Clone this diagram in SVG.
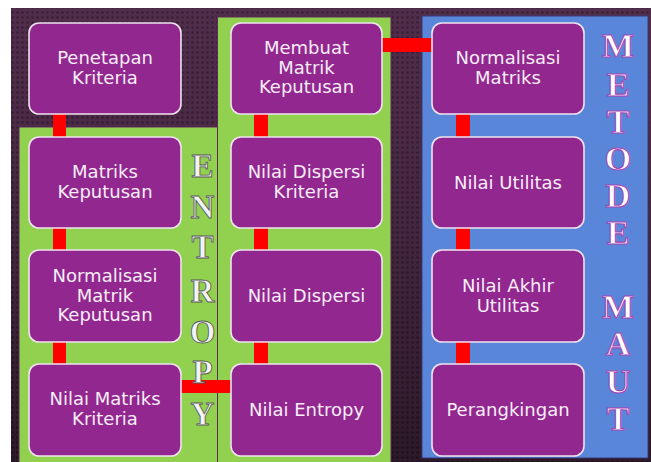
<svg xmlns="http://www.w3.org/2000/svg" width="651" height="462" viewBox="0 0 651 462">
<defs>
<pattern id="dots" width="5" height="5" patternUnits="userSpaceOnUse">
<rect width="5" height="5" fill="#4c2d47"/>
<circle cx="2.5" cy="2.5" r="1.3" fill="#2a1627"/>
</pattern>
<linearGradient id="shade" x1="0" y1="0" x2="0" y2="1">
<stop offset="0" stop-color="#5a3056" stop-opacity="0.3"/>
<stop offset="1" stop-color="#120810" stop-opacity="0.55"/>
</linearGradient>
<style>
.box{fill:#92278F;stroke:#efe3ef;stroke-width:1.6}
.lbl{font-family:"DejaVu Sans","Liberation Sans",sans-serif;font-size:18px;fill:#f8eef8;text-anchor:middle}
.red{fill:#FF0000}
.ent{font-family:"Liberation Serif","DejaVu Serif",serif;font-weight:bold;font-size:33px;fill:#f4f4f4;stroke:#5a5a5a;stroke-width:0.9;text-anchor:middle}
.maut{font-family:"Liberation Serif","DejaVu Serif",serif;font-weight:bold;font-size:34px;fill:#ffffff;stroke:#a445b5;stroke-width:1.1;text-anchor:middle}
</style>
</defs>
<rect width="651" height="462" fill="#ffffff"/>
<rect x="11" y="8" width="640" height="454" fill="url(#dots)"/>
<rect x="11" y="8" width="640" height="454" fill="url(#shade)"/>
<g id="panels">
<rect x="19" y="127" width="198.5" height="336" fill="#92D050" stroke="#5e2a5c" stroke-width="1"/>
<rect x="217.5" y="17" width="173.5" height="446" fill="#92D050" stroke="#5e2a5c" stroke-width="1"/>
<rect x="422" y="16" width="226" height="442" fill="#5A86DA" stroke="#3a3a7a" stroke-width="1"/>
</g>
<g id="connectors">
<rect class="red" x="53" y="114" width="13" height="23"/>
<rect class="red" x="53" y="228" width="13" height="22"/>
<rect class="red" x="53" y="342" width="13" height="22"/>
<rect class="red" x="254" y="114" width="14" height="23"/>
<rect class="red" x="254" y="228" width="14" height="22"/>
<rect class="red" x="254" y="342" width="14" height="22"/>
<rect class="red" x="456" y="114" width="14" height="23"/>
<rect class="red" x="456" y="228" width="14" height="22"/>
<rect class="red" x="456" y="342" width="14" height="22"/>
<rect class="red" x="382" y="38" width="50" height="14"/>
<rect class="red" x="181" y="380" width="50" height="13"/>
</g>
<g id="entropy-title">
<text class="ent" x="202.5" y="177">E</text>
<text class="ent" x="202.5" y="218">N</text>
<text class="ent" x="202.5" y="258">T</text>
<text class="ent" x="202.5" y="302">R</text>
<text class="ent" x="202.5" y="343">O</text>
<text class="ent" x="202.5" y="383">P</text>
<text class="ent" x="202.5" y="425">Y</text>
</g>
<g id="maut-title">
<text class="maut" x="618" y="57">M</text>
<text class="maut" x="618" y="96">E</text>
<text class="maut" x="618" y="133">T</text>
<text class="maut" x="618" y="170">O</text>
<text class="maut" x="618" y="207">D</text>
<text class="maut" x="618" y="244">E</text>
<text class="maut" x="618" y="318">M</text>
<text class="maut" x="618" y="355">A</text>
<text class="maut" x="618" y="393">U</text>
<text class="maut" x="618" y="430">T</text>
</g>
<g id="n-penetapan">
<rect class="box" x="29" y="23" width="152" height="91" rx="10"/>
<text class="lbl" x="105" y="64">Penetapan</text>
<text class="lbl" x="105" y="83.5">Kriteria</text>
</g>
<g id="n-matriks-keputusan">
<rect class="box" x="29" y="137" width="152" height="91" rx="10"/>
<text class="lbl" x="105" y="178">Matriks</text>
<text class="lbl" x="105" y="197.5">Keputusan</text>
</g>
<g id="n-normalisasi-matrik">
<rect class="box" x="29" y="250" width="152" height="92" rx="10"/>
<text class="lbl" x="105" y="282">Normalisasi</text>
<text class="lbl" x="105" y="301.5">Matrik</text>
<text class="lbl" x="105" y="321">Keputusan</text>
</g>
<g id="n-nilai-matriks-kriteria">
<rect class="box" x="29" y="364" width="152" height="92" rx="10"/>
<text class="lbl" x="105" y="405">Nilai Matriks</text>
<text class="lbl" x="105" y="424.5">Kriteria</text>
</g>
<g id="n-membuat-matrik">
<rect class="box" x="231" y="23" width="151" height="91" rx="10"/>
<text class="lbl" x="306.5" y="54">Membuat</text>
<text class="lbl" x="306.5" y="73.5">Matrik</text>
<text class="lbl" x="306.5" y="93">Keputusan</text>
</g>
<g id="n-nilai-dispersi-kriteria">
<rect class="box" x="231" y="137" width="151" height="91" rx="10"/>
<text class="lbl" x="306.5" y="178">Nilai Dispersi</text>
<text class="lbl" x="306.5" y="197.5">Kriteria</text>
</g>
<g id="n-nilai-dispersi">
<rect class="box" x="231" y="250" width="151" height="92" rx="10"/>
<text class="lbl" x="306.5" y="302">Nilai Dispersi</text>
</g>
<g id="n-nilai-entropy">
<rect class="box" x="231" y="364" width="151" height="92" rx="10"/>
<text class="lbl" x="306.5" y="416">Nilai Entropy</text>
</g>
<g id="n-normalisasi-matriks">
<rect class="box" x="432" y="23" width="152" height="91" rx="10"/>
<text class="lbl" x="508" y="64">Normalisasi</text>
<text class="lbl" x="508" y="83.5">Matriks</text>
</g>
<g id="n-nilai-utilitas">
<rect class="box" x="432" y="137" width="152" height="91" rx="10"/>
<text class="lbl" x="508" y="189">Nilai Utilitas</text>
</g>
<g id="n-nilai-akhir-utilitas">
<rect class="box" x="432" y="250" width="152" height="92" rx="10"/>
<text class="lbl" x="508" y="292">Nilai Akhir</text>
<text class="lbl" x="508" y="311.5">Utilitas</text>
</g>
<g id="n-perangkingan">
<rect class="box" x="432" y="364" width="152" height="92" rx="10"/>
<text class="lbl" x="508" y="416">Perangkingan</text>
</g>
</svg>
